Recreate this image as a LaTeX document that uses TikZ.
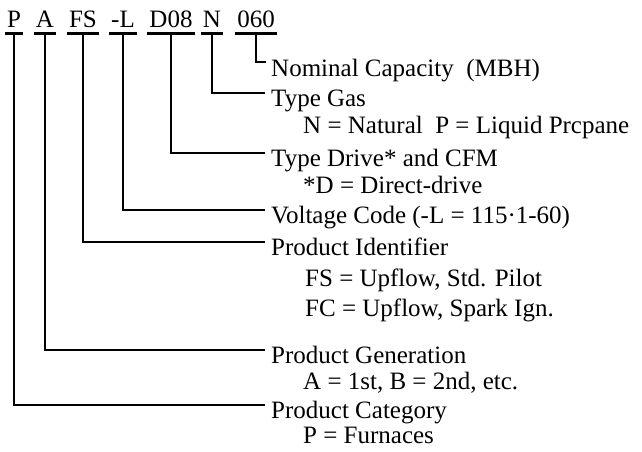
\documentclass[tikz,border=0pt]{standalone}
\usepackage{fontspec}
\setmainfont{Liberation Serif}

\begin{document}
\begin{tikzpicture}[x=1pt, y=-1pt, every node/.style={font=\fontsize{25}{30}\selectfont}]
  \tikzset{
    code/.style={inner xsep=2pt, inner ysep=5pt, text depth=0pt, anchor=base},
    lab/.style={inner sep=0pt, anchor=base west},
    lead/.style={line width=2.8pt}
  }
  \useasboundingbox (0,0) rectangle (642,452);

  % model number, each part underlined
  \node[code] (cP)   at (14,28)  {P};
  \node[code] (cA)   at (45,28)  {A};
  \node[code] (cFS)  at (83,28)  {FS};
  \node[code] (cL)   at (123,28) {-L};
  \node[code] (cD)   at (171,28) {D08};
  \node[code] (cN)   at (212,28) {N};
  \node[code] (cCap) at (256,28) {060};
  \foreach \c in {cP,cA,cFS,cL,cD,cN,cCap}
    \draw[lead] (\c.south west) -- (\c.south east);

  % explanations
  \node[lab] (nomlab) at (271,77)  {Nominal Capacity\ \ (MBH)};
  \node[lab] (gaslab) at (271,106) {Type Gas};
  \node[lab] (gasval) at (303,133) {N = Natural\ \ P = Liquid Prcpane};
  \node[lab] (drvlab) at (271,166) {Type Drive* and CFM};
  \node[lab] (drvval) at (303,193) {*D =\ Direct-drive};
  \node[lab] (vltlab) at (271,223) {Voltage Code\ (-L = 115·1-60)};
  \node[lab] (idlab)  at (271,255) {Product Identifier};
  \node[lab] (idvalS) at (305,286) {FS =\ Upflow, Std. Pilot};
  \node[lab] (idvalC) at (305,316) {FC =\ Upflow, Spark Ign.};
  \node[lab] (genlab) at (271,363) {Product Generation};
  \node[lab] (genval) at (303,389) {A = 1st,\ B = 2nd,\ etc.};
  \node[lab] (catlab) at (271,418) {Product Category};
  \node[lab] (catval) at (303,443) {P = Furnaces};

  % leaders
  \draw[lead] (cCap.south) |- ([xshift=-5pt,yshift=15pt]nomlab.base west);
  \draw[lead] (cN.south)   |- ([xshift=-6pt,yshift=13pt]gaslab.base west);
  \draw[lead] (cD.south)   |- ([xshift=-6pt,yshift=13pt]drvlab.base west);
  \draw[lead] (cL.south)   |- ([xshift=-6pt,yshift=13pt]vltlab.base west);
  \draw[lead] (cFS.south)  |- ([xshift=-6pt,yshift=13pt]idlab.base west);
  \draw[lead] (cA.south)   |- ([xshift=-6pt,yshift=13pt]genlab.base west);
  \draw[lead] (cP.south)   |- ([xshift=-6pt,yshift=13pt]catlab.base west);
\end{tikzpicture}
\end{document}
